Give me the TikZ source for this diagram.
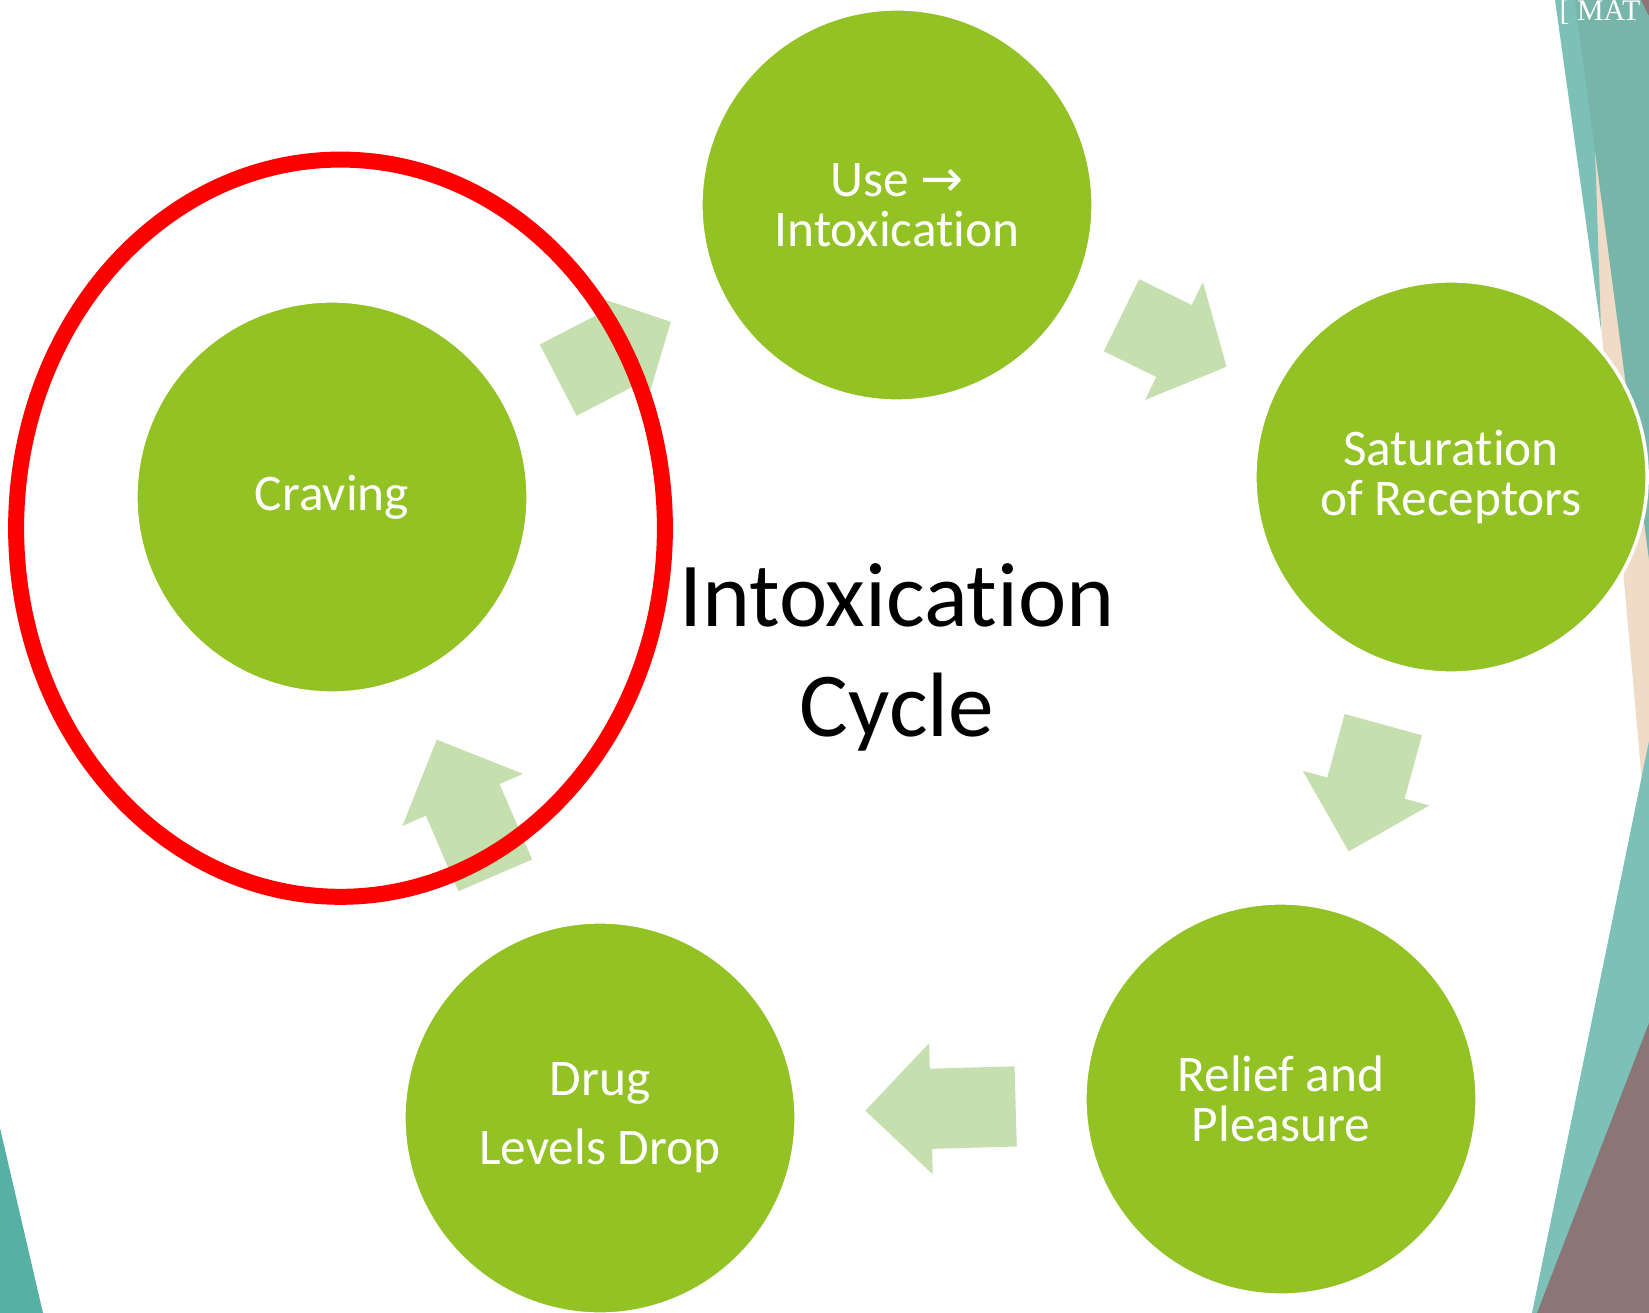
\documentclass[tikz,border=0pt]{standalone}
\usepackage{fontspec}
\setmainfont{Carlito}[Ligatures=NoCommon]
\newfontfamily\symbolfont{DejaVu Sans}
\newfontfamily\headerfont{Liberation Serif}
\usetikzlibrary{calc}

\definecolor{stagegreen}{HTML}{93C225}
\definecolor{arrowgreen}{HTML}{C6DFAE}
\definecolor{tealdark}{HTML}{77B5AA}
\definecolor{teallight}{HTML}{7CC0B8}
\definecolor{tealdeep}{HTML}{56B0A4}
\definecolor{sand}{HTML}{F0DBC6}
\definecolor{taupe}{HTML}{8B7675}

\tikzset{
	stage/.style={circle,fill=stagegreen,draw=white,line width=1pt,
		minimum size=3.92cm,inner sep=0pt,text=white,align=center,
		font=\fontsize{14.6}{14.1}\selectfont},
	cyclearrow/.style={fill=arrowgreen},
}

% block arrow half way between two stages, pointing from #1 to #2
\newcommand\stagearrow[2]{%
	\fill[cyclearrow] let \p1=(#1.center), \p2=(#2.center),
		\n1={atan2(\y2-\y1,\x2-\x1)},
		\n2={0.52*(veclen(\x2-\x1,\y2-\y1)-111.5pt)},
		\n3={0.5*min(\n2,37.3pt)}
	in [shift={($(#1.center)!0.5!(#2.center)$)},rotate=\n1]
		({-\n2/2*1pt},11.4pt) -- ({(\n2/2-\n3)*1pt},11.4pt)
		-- ({(\n2/2-\n3)*1pt},18.65pt) -- ({\n2/2*1pt},0pt)
		-- ({(\n2/2-\n3)*1pt},-18.65pt) -- ({(\n2/2-\n3)*1pt},-11.4pt)
		-- ({-\n2/2*1pt},-11.4pt) -- cycle;
}

\begin{document}
\begin{tikzpicture}[x=0.01cm,y=-0.01cm]

\useasboundingbox (0,0) rectangle (1649,1313);
\fill[white] (0,0) rectangle (1649,1313);
\clip (0,0) rectangle (1649,1313);

%
% slide decoration
%
\fill[sand] (1572,0) -- (1649,0) -- (1649,860) -- cycle;
\fill[teallight] (1555,0) -- (1590,0) -- (1601,330) -- cycle;
\fill[tealdark] (1575,0) -- (1649,0) -- (1649,560) -- cycle;
\fill[taupe] (1641,0) -- (1649,0) -- (1649,16) -- cycle;
\fill[teallight] (1649,741) -- (1532,1313) -- (1649,1313) -- cycle;
\fill[taupe] (1649,1023) -- (1537,1313) -- (1649,1313) -- cycle;
\fill[tealdeep] (0,1128) -- (43,1313) -- (0,1313) -- cycle;
\node[anchor=base west,inner sep=0pt,text=white,
	font=\headerfont\fontsize{8.5}{10}\selectfont] (header) at (1559,21) {[ MAT};

%
% stages of the cycle
%
\node[stage] (use) at (897,205) {Use {\symbolfont→}\\Intoxication};
\node[stage] (saturation) at (1451,477) {Saturation\\of Receptors};
\node[stage] (relief) at (1281,1099) {Relief and\\Pleasure};
\node[stage] (drug) at (600,1118) {Drug\\[5.6pt]Levels Drop};
\node[stage] (craving) at (332,497) {Craving};

\stagearrow{use}{saturation}
\stagearrow{saturation}{relief}
\stagearrow{relief}{drug}
\stagearrow{drug}{craving}
\stagearrow{craving}{use}

\node[align=center,font=\fontsize{26}{31.3}\selectfont] (title) at (897,657)
	{Intoxication\\Cycle};

% highlight
\draw[red,line width=4.55pt] (340.5,528.2) ellipse [x radius=3.242cm,y radius=3.684cm];

\end{tikzpicture}
\end{document}
